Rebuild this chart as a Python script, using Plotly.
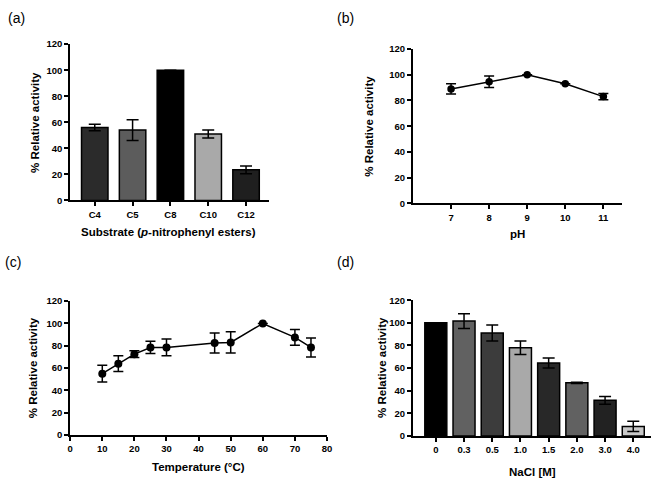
import plotly.graph_objects as go

# ---- data ----
substrates = ["C4", "C5", "C8", "C10", "C12"]
sub_act = [56, 54, 100, 51, 23.5]
sub_err = [2.5, 8, 0, 3, 3]
sub_colors = ["#2b2b2b", "#5c5c5c", "#000000", "#a9a9a9", "#1f1f1f"]

ph = [7, 8, 9, 10, 11]
ph_act = [89, 94.5, 100, 93, 83]
ph_err = [4, 4.5, 0, 0, 2.5]

temp = [10, 15, 20, 25, 30, 45, 50, 60, 70, 75]
temp_act = [55, 64, 72.5, 78.5, 78.5, 82.5, 83, 100, 87.5, 78.5]
temp_err = [7.5, 7, 3, 5.5, 7.5, 9, 9.5, 0, 7, 8.5]

nacl = ["0", "0.3", "0.5", "1.0", "1.5", "2.0", "3.0", "4.0"]
nacl_act = [100, 101.5, 91, 78, 64.5, 47, 31.5, 8.5]
nacl_err = [0, 6.5, 7, 6, 4.5, 0.5, 3.5, 4.5]
nacl_colors = ["#000000", "#616161", "#3c3c3c", "#a9a9a9", "#282828", "#616161", "#222222", "#c8c8c8"]

y_ticks = [0, 20, 40, 60, 80, 100, 120]

W, H = 660, 485
FONT = "Liberation Sans, Arial, sans-serif"

def px_x(a, b):
    return [a / W, b / W]

def px_y(top, bottom):
    return [1 - bottom / H, 1 - top / H]

fig = go.Figure()

err_style = dict(type="data", thickness=1.5, width=6, color="black")

fig.add_trace(go.Bar(x=substrates, y=sub_act, marker=dict(color=sub_colors, line=dict(color="black", width=1.5)),
                     width=0.7, error_y=dict(array=sub_err, **err_style), xaxis="x", yaxis="y"))
fig.add_trace(go.Scatter(x=ph, y=ph_act, mode="lines+markers", line=dict(color="black", width=1.5),
                         marker=dict(color="black", size=7.5),
                         error_y=dict(array=ph_err, type="data", thickness=1.5, width=5, color="black"),
                         xaxis="x2", yaxis="y2"))
fig.add_trace(go.Scatter(x=temp, y=temp_act, mode="lines+markers", line=dict(color="black", width=1.5),
                         marker=dict(color="black", size=8),
                         error_y=dict(array=temp_err, type="data", thickness=1.5, width=5, color="black"),
                         xaxis="x3", yaxis="y3"))
fig.add_trace(go.Bar(x=nacl, y=nacl_act, marker=dict(color=nacl_colors, line=dict(color="black", width=1.5)),
                     width=0.78, error_y=dict(array=nacl_err, **err_style), xaxis="x4", yaxis="y4"))

tickfont = dict(family=FONT, size=9.5, color="black", weight="bold")
ax_common = dict(showline=True, linecolor="black", linewidth=2, ticks="outside", ticklen=4, tickwidth=2,
                 tickcolor="black", showgrid=False, zeroline=False, tickfont=tickfont)

yax = dict(range=[0, 120], tickvals=y_ticks, **ax_common)

fig.update_layout(
    width=W, height=H, margin=dict(l=0, r=0, t=0, b=0),
    paper_bgcolor="white", plot_bgcolor="white", showlegend=False,
    xaxis=dict(domain=px_x(68, 269), type="category", range=[-0.65, 4.6], anchor="y", **ax_common),
    yaxis=dict(domain=px_y(39, 199), anchor="x", **yax),
    xaxis2=dict(domain=px_x(415, 627), range=[6, 11.5], tickvals=ph, anchor="y2", **ax_common),
    yaxis2=dict(domain=px_y(44, 202), anchor="x2", **yax),
    xaxis3=dict(domain=px_x(68, 328), range=[0, 80], dtick=10, anchor="y3", **ax_common),
    yaxis3=dict(domain=px_y(302, 439), anchor="x3", **yax),
    xaxis4=dict(domain=px_x(415, 656), type="category", range=[-0.81, 7.63], anchor="y4", **ax_common),
    yaxis4=dict(domain=px_y(301, 440), anchor="x4", **yax),
)

titlefont = dict(family=FONT, size=11.5, color="black", weight="bold")
annots = [
    ("Substrate (<i>p</i>-nitrophenyl esters)", 168, 231, 0),
    ("% Relative activity", 33, 119, -90),
    ("pH", 521, 233, 0),
    ("% Relative activity", 371, 123, -90),
    ("Temperature (°C)", 198, 472, 0),
    ("% Relative activity", 30, 370, -90),
    ("NaCl [M]", 536, 477, 0),
    ("% Relative activity", 383, 370, -90),
]
for text, x, y, ang in annots:
    fig.add_annotation(text=text, x=x / W, y=1 - y / H, xref="paper", yref="paper", showarrow=False,
                       textangle=ang, font=titlefont, xanchor="center", yanchor="middle")

labfont = dict(family=FONT, size=14, color="black")
for text, x, y in [("(a)", 14, 12), ("(b)", 347, 12), ("(c)", 10, 262), ("(d)", 347, 262)]:
    fig.add_annotation(text=text, x=x / W, y=1 - y / H, xref="paper", yref="paper", showarrow=False,
                       font=labfont, xanchor="center", yanchor="middle")

fig.write_html("out.html")
